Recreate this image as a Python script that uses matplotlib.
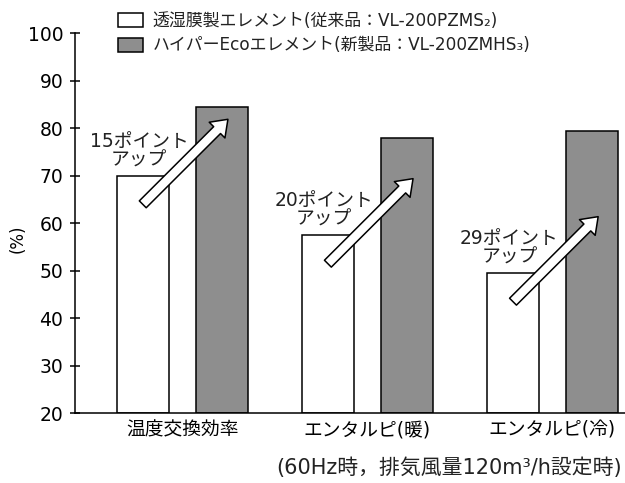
import matplotlib.pyplot as plt
import matplotlib.patches as mpatches
import numpy as np

plt.rcParams['font.family'] = ['DejaVu Sans', 'Noto Sans CJK JP']
plt.rcParams['text.color'] = '#222222'

#------------------------------------------------------------------------
# data
#------------------------------------------------------------------------
categories = ['温度交換効率', 'エンタルピ(暖)', 'エンタルピ(冷)']
old_values = [70.0, 57.5, 49.5]      # 透湿膜製エレメント
new_values = [84.5, 78.0, 79.5]      # ハイパーEcoエレメント
gain_labels = ['15ポイント\nアップ', '20ポイント\nアップ', '29ポイント\nアップ']
legend_labels = ['透湿膜製エレメント(従来品：VL-200PZMS₂)',
                 'ハイパーEcoエレメント(新製品：VL-200ZMHS₃)']
y_ticks = [20, 30, 40, 50, 60, 70, 80, 90, 100]
note = '(60Hz時，排気風量120m³/h設定時)'

gray = '#8e8e8e'

#------------------------------------------------------------------------
fig = plt.figure(figsize=(6.25, 4.83), dpi=100)
ax = fig.add_axes([0.12, 0.1443, 0.88, 0.7867])

x = np.arange(len(categories))
w = 0.282
off = 0.213

ax.bar(x - off, np.array(old_values) - 20, w, bottom=20, color='white',
       edgecolor='black', linewidth=1.1, zorder=2)
ax.bar(x + off, np.array(new_values) - 20, w, bottom=20, color=gray,
       edgecolor='black', linewidth=1.1, zorder=2)

#----------------------------
# fat arrows + annotations
#----------------------------
for i in range(len(categories)):
    x0 = x[i] - off
    y0 = old_values[i] - 6.0
    arr = mpatches.FancyArrowPatch(
        (x0, y0), (x0 + 0.46, y0 + 17.9),
        arrowstyle='simple,head_length=11,head_width=16,tail_width=7',
        mutation_scale=1, facecolor='white', edgecolor='black',
        linewidth=1.1, zorder=4, shrinkA=0, shrinkB=0)
    ax.add_patch(arr)
    ax.text(x0 - 0.02, old_values[i] + 5.3, gain_labels[i], ha='center',
            va='center', fontsize=13.5, linespacing=1.0, zorder=5)

ax.set_xlim(-0.579, 2.392)
ax.set_ylim(20, 100)
ax.set_yticks(y_ticks)
ax.set_xticks(x)
ax.set_xticklabels(categories, fontsize=13.5)
ax.tick_params(axis='x', length=0, pad=5)
ax.tick_params(axis='y', direction='inout', length=7, width=1.1,
               labelsize=13.5, pad=5)
for s in ['top', 'right']:
    ax.spines[s].set_visible(False)
for s in ['left', 'bottom']:
    ax.spines[s].set_linewidth(1.1)

ax.set_ylabel('(%)', fontsize=12)
ax.yaxis.set_label_coords(-0.088, 0.46)

#----------------------------
# legend
#----------------------------
handles = [mpatches.Patch(facecolor='white', edgecolor='black', linewidth=1.1),
           mpatches.Patch(facecolor=gray, edgecolor='black', linewidth=1.1)]
fig.legend(handles, legend_labels, loc='upper left',
           bbox_to_anchor=(0.172, 0.997), frameon=False, fontsize=12.2,
           handlelength=1.5, handleheight=0.9, handletextpad=0.55,
           labelspacing=0.4, borderaxespad=0.2)

fig.text(0.995, 0.031, note, ha='right', va='center', fontsize=15)

fig.savefig('out.png', dpi=100)
